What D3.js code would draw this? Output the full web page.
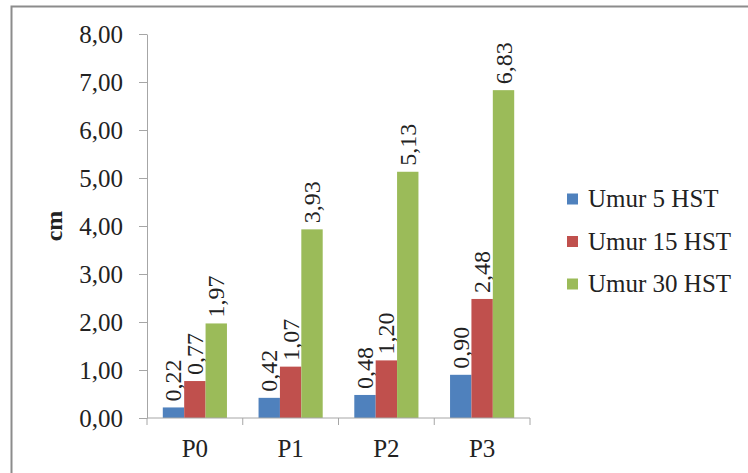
<!DOCTYPE html>
<html><head><meta charset="utf-8">
<script src="https://cdn.jsdelivr.net/npm/d3@7"></script>
<style>body{margin:0;background:#fff}svg{display:block}
svg text{font-family:"Liberation Serif","DejaVu Serif","Times New Roman",Times,serif}</style>
</head><body>
<svg id="c" width="748" height="473"></svg>
<script>
const categories = ["P0", "P1", "P2", "P3"];
const seriesNames = ["Umur 5 HST", "Umur 15 HST", "Umur 30 HST"];
const umur5 = [0.22, 0.42, 0.48, 0.90];
const umur15 = [0.77, 1.07, 1.20, 2.48];
const umur30 = [1.97, 3.93, 5.13, 6.83];
const yTicks = [0, 1, 2, 3, 4, 5, 6, 7, 8];
const colors = ["#4F81BD", "#C0504D", "#9BBB59"];
const series = [umur5, umur15, umur30];

const svg = d3.select("#c");
const fmt = v => d3.format(".2f")(v).replace(".", ",");

svg.append("rect").attr("x", 11.5).attr("y", 6.5).attr("width", 760).attr("height", 480)
  .attr("fill", "#fff").attr("stroke", "#8c8c8c").attr("stroke-width", 2);

const x0 = 147, x1 = 530, yTop = 34, yBot = 418;
const x = d3.scaleBand().domain(categories).range([x0, x1]).paddingInner(0.33).paddingOuter(0.165);
const xs = d3.scaleBand().domain(seriesNames).range([0, x.bandwidth()]);
const y = d3.scaleLinear().domain([0, 8]).range([yBot, yTop]);

// y axis
const yAxis = svg.append("g").attr("transform", `translate(${x0},0)`)
  .call(d3.axisLeft(y).tickValues(yTicks).tickFormat(fmt).tickSize(8).tickSizeOuter(0));
yAxis.attr("font-family", null).attr("font-size", null);
yAxis.select(".domain").attr("stroke", "#a6a6a6");
yAxis.selectAll(".tick line").attr("stroke", "#a6a6a6");
yAxis.selectAll(".tick text").attr("font-size", 25).attr("fill", "#222").attr("x", -24).attr("dy", "0.34em");

// bars
categories.forEach((c, i) => {
  series.forEach((s, j) => {
    const bx = x(c) + xs(seriesNames[j]);
    svg.append("rect").attr("x", bx).attr("y", y(s[i]))
      .attr("width", xs.bandwidth()).attr("height", y(0) - y(s[i])).attr("fill", colors[j]);
    svg.append("text")
      .attr("transform", `translate(${bx + xs.bandwidth() / 2 + 8},${y(s[i]) - 6}) rotate(-90)`)
      .attr("font-size", 24).attr("fill", "#222")
      .text(fmt(s[i]));
  });
});

// x axis
const xAxisG = svg.append("g").attr("transform", `translate(0,${yBot})`);
xAxisG.append("line").attr("x1", x0).attr("x2", x1).attr("stroke", "#a6a6a6");
d3.range(categories.length + 1).forEach(k => {
  const tx = x0 + k * (x1 - x0) / categories.length;
  xAxisG.append("line").attr("x1", tx).attr("x2", tx).attr("y1", 0).attr("y2", 7).attr("stroke", "#a6a6a6");
});
categories.forEach(c => {
  xAxisG.append("text").attr("x", x(c) + x.bandwidth() / 2).attr("y", 39)
    .attr("text-anchor", "middle").attr("font-size", 25).attr("fill", "#222").text(c);
});

// y title
svg.append("text").attr("transform", "translate(62,226) rotate(-90)")
  .attr("text-anchor", "middle").attr("font-size", 24)
  .attr("font-weight", "bold").attr("fill", "#222").text("cm");

// legend
seriesNames.forEach((n, j) => {
  const ly = 199 + j * 42.5;
  svg.append("rect").attr("x", 567).attr("y", ly - 5.5).attr("width", 11).attr("height", 11).attr("fill", colors[j]);
  svg.append("text").attr("x", 588).attr("y", ly + 8).attr("font-size", 25)
    .attr("fill", "#222").text(n);
});
</script>
</body></html>
